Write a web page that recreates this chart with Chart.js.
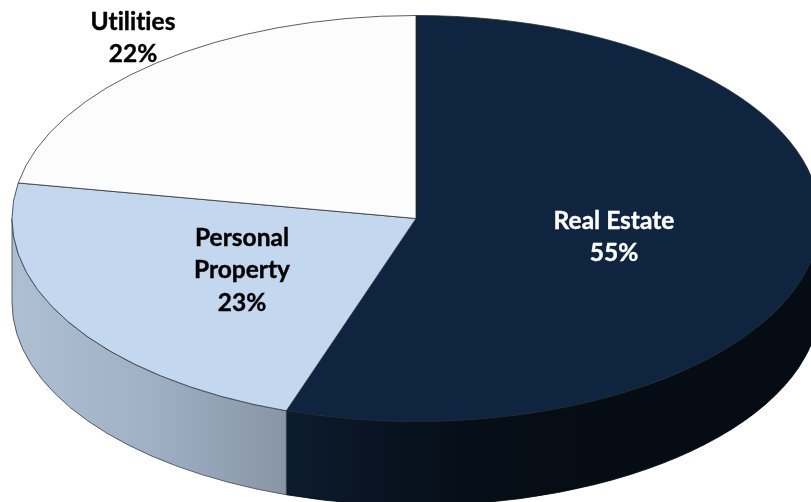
<!DOCTYPE html>
<html><head><meta charset="utf-8">
<style>html,body{margin:0;padding:0;background:#fff}canvas{display:block}</style>
<script src="https://cdn.jsdelivr.net/npm/chart.js@4"></script></head>
<body><canvas id="c" width="811" height="502"></canvas>
<script>
const categories = ['Real Estate', 'Personal Property', 'Utilities'];
const values = [55.2, 22.6, 22.2];
const labelLines = [['Real Estate', '55%'], ['Personal', 'Property', '23%'], ['Utilities', '22%']];
const topColors = ['#0f243e', '#c3d7ee', '#fcfcfc'];
const sideStops = [['#0c1b2e', '#060e17', '#050c13', '#050c13'], ['#aebed3', '#a0b0c5', '#8895a6'], ['#ccc', '#999']];
const labelOffsets = [[198, 2.5], [-174, 19.5], [-283, -196.5]];

const SQUASH = 0.5025, DEPTH = 84;
const pie3d = {
  id: 'pie3d',
  beforeDatasetsDraw(chart) {
    const ctx = chart.ctx;
    const arcs = chart.getDatasetMeta(0).data;
    const cx = arcs[0].x, cy = arcs[0].y, r = arcs[0].outerRadius;
    const ry = r * SQUASH;
    ctx.save();
    arcs.forEach((a, i) => {
      const s = Math.max(a.startAngle, 0), e = Math.min(a.endAngle, Math.PI);
      if (e <= s) return;
      const x1 = cx + r * Math.cos(e), x0 = cx + r * Math.cos(s);
      const g = ctx.createLinearGradient(x1, 0, x0, 0);
      const st = sideStops[i];
      st.forEach((c, k) => g.addColorStop(k / (st.length - 1), c));
      ctx.beginPath();
      ctx.ellipse(cx, cy, r, ry, 0, s, e);
      ctx.ellipse(cx, cy + DEPTH, r, ry, 0, e, s, true);
      ctx.closePath();
      ctx.fillStyle = g;
      ctx.fill();
      ctx.strokeStyle = i === 0 ? '#050a10' : '#3a3f47';
      ctx.lineWidth = 0.8;
      ctx.stroke();
    });
    ctx.restore();
    ctx.save();
    ctx.translate(cx, cy);
    ctx.scale(1, SQUASH);
    ctx.translate(-cx, -cy);
  },
  afterDatasetsDraw(chart) {
    const ctx = chart.ctx;
    ctx.restore();
    const a0 = chart.getDatasetMeta(0).data[0];
    ctx.save();
    ctx.font = 'bold 24.5px Lato';
    ctx.letterSpacing = '0.01px';
    ctx.textAlign = 'center';
    ctx.textBaseline = 'middle';
    labelLines.forEach((lines, i) => {
      lines.forEach((t, k) => {
        const x = a0.x + labelOffsets[i][0], y = a0.y + labelOffsets[i][1] + k * 32.5;
        ctx.fillStyle = i === 0 ? '#ffffff' : '#000000';
        ctx.strokeStyle = ctx.fillStyle;
        ctx.lineWidth = 0.4;
        ctx.fillText(t, x, y);
        ctx.strokeText(t, x, y);
      });
    });
    ctx.restore();
  }
};
new Chart(document.getElementById('c'), {
  type: 'pie',
  data: { labels: categories, datasets: [{ data: values, backgroundColor: topColors, borderColor: '#26292e', borderWidth: 1, clip: false }] },
  options: {
    responsive: false, animation: false, radius: 404,
    layout: { padding: { left: 21, bottom: 65 } },
    plugins: { legend: { display: false }, tooltip: { enabled: false } }
  },
  plugins: [pie3d]
});
</script></body></html>
